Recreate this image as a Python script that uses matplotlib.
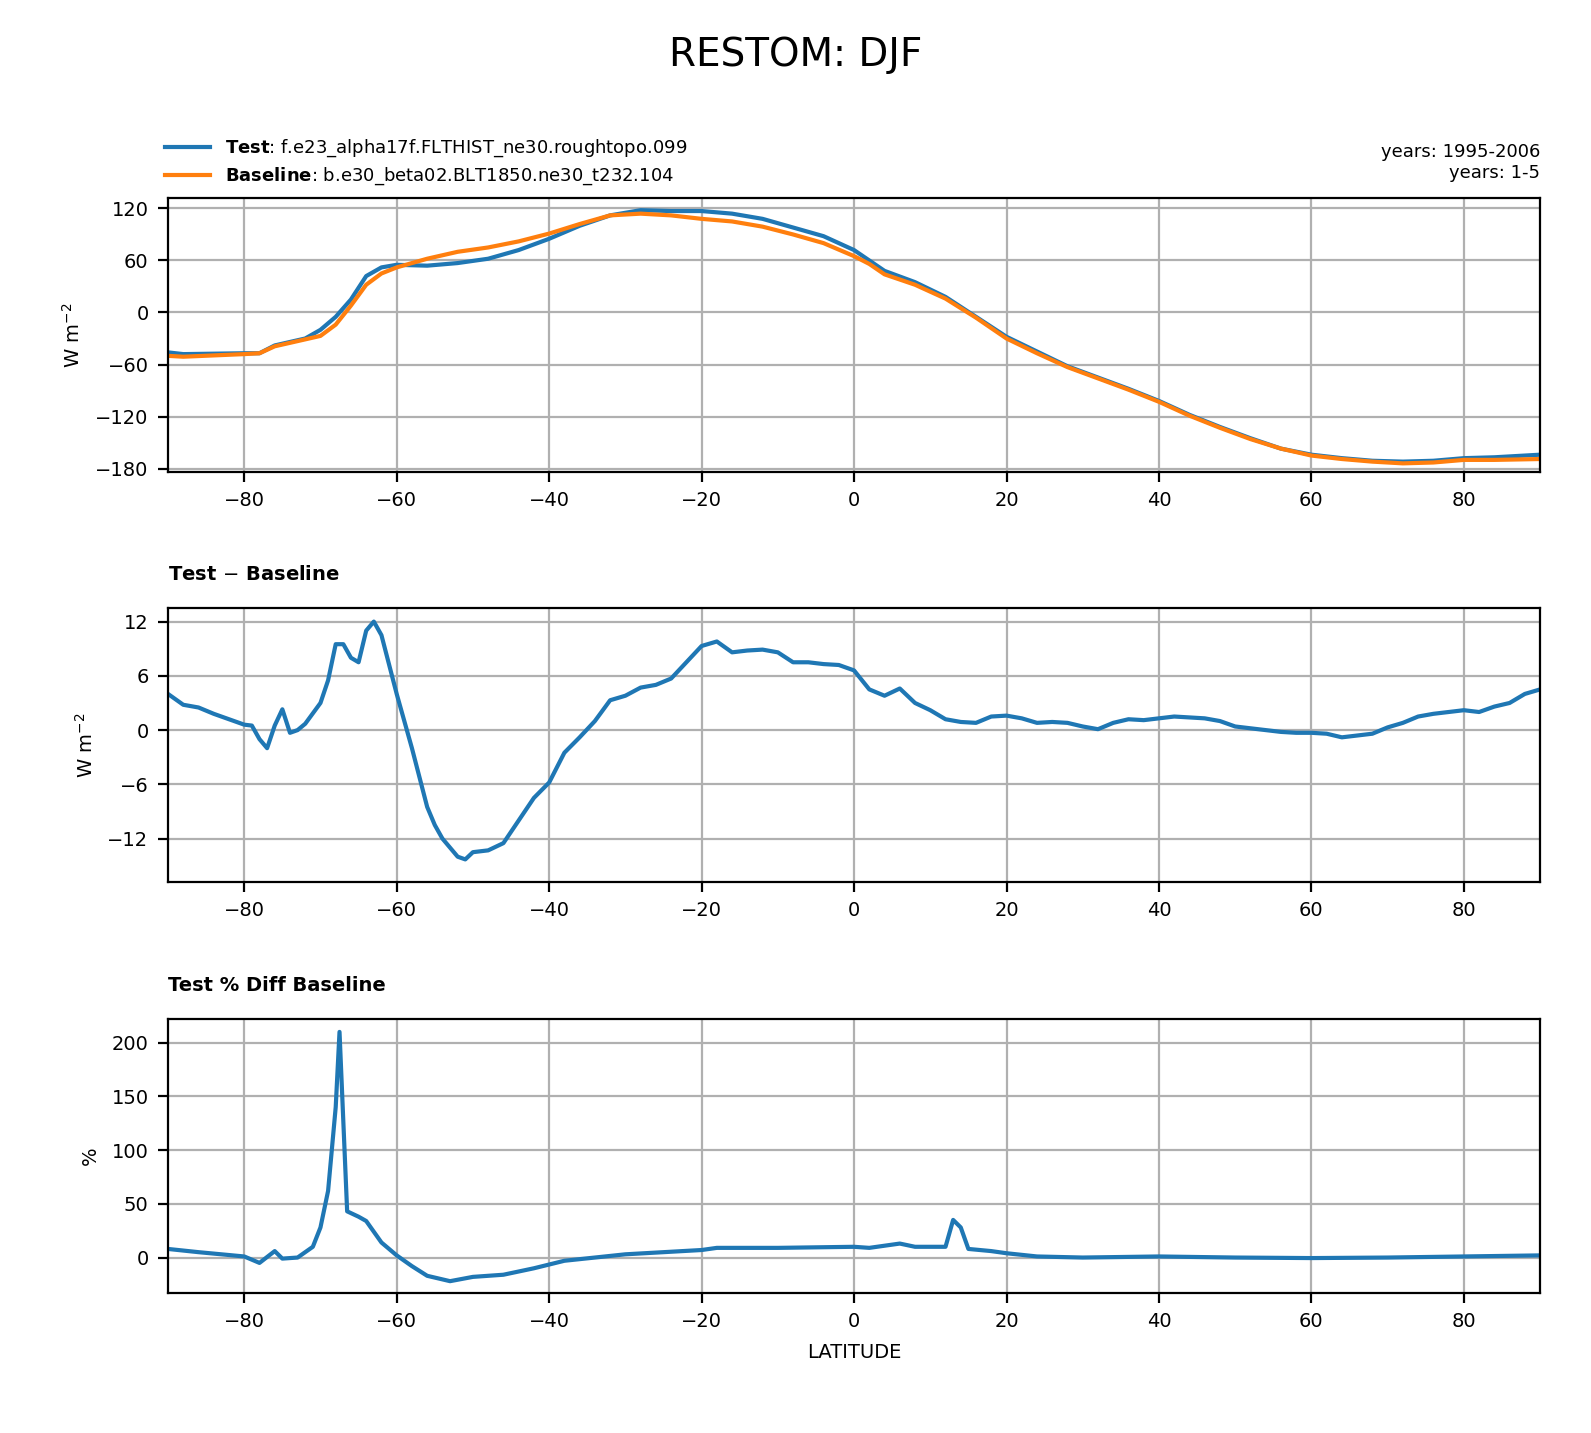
import matplotlib
matplotlib.use("Agg")
import matplotlib.pyplot as plt
import numpy as np

lat_top = [-90,-88,-80,-78,-76,-72,-70,-68,-66,-64,-62,-60,-56,-52,-48,-44,-40,-36,-32,-28,-24,-20,-16,-12,-8,-4,0,2,4,8,12,16,20,24,28,32,36,40,44,48,52,56,60,64,68,72,76,80,84,90]
test = [-46,-48,-47,-47,-38,-30,-20,-5,15,42,52,55,54,57,62,72,85,100,112,118,117,117,114,108,98,88,72,60,48,35,18,-5,-28,-45,-62,-75,-88,-102,-118,-132,-145,-157,-164,-168,-171,-172,-171,-168,-167,-164]
baseline = [-50,-51,-48,-47,-39,-31,-27,-14,8,32,45,52,62,70,75,82,91,102,112,114,112,108,105,99,90,80,65,56,44,32,16,-6,-30,-47,-63,-76,-89,-103,-119,-133,-146,-157,-165,-169,-172,-174,-173,-170,-170,-169]

lat_diff = [-90,-88,-86,-84,-82,-80,-79,-78,-77,-76,-75,-74,-73,-72,-70,-69,-68,-67,-66,-65,-64,-63,-62,-60,-58,-56,-55,-54,-52,-51,-50,-48,-46,-44,-42,-40,-38,-36,-34,-32,-30,-28,-26,-24,-22,-20,-18,-16,-14,-12,-10,-8,-6,-4,-2,0,2,4,6,8,10,12,14,16,18,20,22,24,26,28,30,32,34,36,38,40,42,44,46,48,50,52,54,56,58,60,62,64,66,68,70,72,74,76,78,80,82,84,86,88,90]
diff = [4,2.8,2.5,1.8,1.2,0.6,0.5,-1,-2,0.5,2.3,-0.3,0,0.7,3,5.5,9.5,9.5,8,7.5,11,12,10.5,4,-2,-8.5,-10.5,-12,-14,-14.3,-13.5,-13.3,-12.5,-10,-7.5,-5.8,-2.5,-0.8,1,3.3,3.8,4.7,5,5.7,7.5,9.3,9.8,8.6,8.8,8.9,8.6,7.5,7.5,7.3,7.2,6.6,4.5,3.8,4.6,3,2.2,1.2,0.9,0.8,1.5,1.6,1.3,0.8,0.9,0.8,0.4,0.1,0.8,1.2,1.1,1.3,1.5,1.4,1.3,1.0,0.4,0.2,0,-0.2,-0.3,-0.3,-0.4,-0.8,-0.6,-0.4,0.3,0.8,1.5,1.8,2.0,2.2,2.0,2.6,3.0,4.0,4.5]

lat_pct = [-90,-86,-80,-78,-76,-75,-73,-71,-70,-69,-68,-67.5,-66.5,-65,-64,-62,-60,-58,-56,-53,-50,-46,-42,-38,-30,-20,-18,-10,0,2,6,8,12,13,14,15,18,20,24,30,40,50,60,70,80,90]
pct = [8,5,1,-5,6,-1,0,10,28,62,140,210,43,38,34,14,2,-8,-17,-22,-18,-16,-10,-3,3,7,9,9,10,9,13,10,10,35,28,8,6,4,1,0,1,0,-0.5,0,1,2]

xticks = [-80,-60,-40,-20,0,20,40,60,80]
blue, orange = "#1f77b4", "#ff7f0e"
fs = 7

fig = plt.figure(figsize=(7.955, 7.165), dpi=200)
ax1 = fig.add_axes([0.1056, 0.6706, 0.8624, 0.1912])
ax2 = fig.add_axes([0.1056, 0.3845, 0.8624, 0.1912])
ax3 = fig.add_axes([0.1056, 0.0977, 0.8624, 0.1912])

l1, = ax1.plot(lat_top, test, color=blue, lw=1.5)
l2, = ax1.plot(lat_top, baseline, color=orange, lw=1.5)
ax1.set_yticks([-180,-120,-60,0,60,120]); ax1.set_ylim(-184, 132)
ax1.set_ylabel(r"W m$^{-2}$", fontsize=fs)
ax1.legend([l1, l2], [r"$\bf{Test}$: f.e23_alpha17f.FLTHIST_ne30.roughtopo.099",
                      r"$\bf{Baseline}$: b.e30_beta02.BLT1850.ne30_t232.104"],
           loc="lower left", bbox_to_anchor=(-0.01, 1.0), frameon=False, fontsize=6.5,
           handlelength=2.5, borderaxespad=0.2, labelspacing=0.35)
ax1.text(1.0, 1.06, "years: 1995-2006\nyears: 1-5", transform=ax1.transAxes,
         ha="right", va="bottom", fontsize=6.5)

ax2.plot(lat_diff, diff, color=blue, lw=1.5)
ax2.set_yticks([-12,-6,0,6,12]); ax2.set_ylim(-16.8, 13.5)
ax2.set_ylabel(r"W m$^{-2}$", fontsize=fs)
ax2.set_title(r"Test $-$ Baseline", loc="left", fontsize=fs, fontweight="bold", pad=10)

ax3.plot(lat_pct, pct, color=blue, lw=1.5)
ax3.set_yticks([0,50,100,150,200]); ax3.set_ylim(-33, 222)
ax3.set_ylabel("%", fontsize=fs)
ax3.set_title("Test % Diff Baseline", loc="left", fontsize=fs, fontweight="bold", pad=10)
ax3.set_xlabel("LATITUDE", fontsize=fs)

for ax in (ax1, ax2, ax3):
    ax.set_xlim(-90, 90)
    ax.set_xticks(xticks)
    ax.grid(True, color="#b0b0b0", lw=0.8)
    ax.tick_params(labelsize=fs)

fig.suptitle("RESTOM: DJF", fontsize=14, y=0.975)
fig.savefig("out.png", dpi=200)
